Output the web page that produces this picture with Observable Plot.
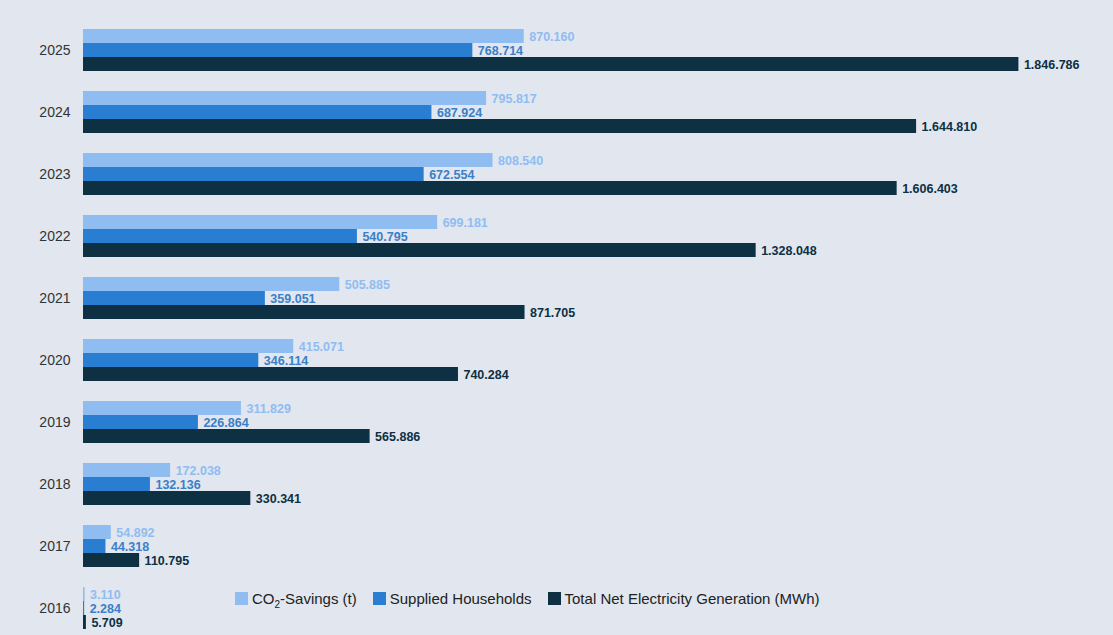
<!DOCTYPE html>
<html><head><meta charset="utf-8">
<script src="https://cdn.jsdelivr.net/npm/d3@7"></script>
<script src="https://cdn.jsdelivr.net/npm/@observablehq/plot@0.6"></script>
<style>
body{margin:0;background:#e1e6ef;font-family:"Liberation Sans",Arial,sans-serif;}
#wrap{position:relative;width:1113px;height:635px;}
#legend{position:absolute;left:235px;top:590px;font-size:15px;color:#222;display:flex;gap:16px;}
#legend span.sw{display:inline-block;width:13px;height:13px;margin-right:4px;vertical-align:-1px;}
</style></head><body>
<div id="wrap"><div id="chart"></div>
<div id="legend">
<div><span class="sw" style="background:#8fbdf2"></span>CO<sub style="font-size:10px">2</sub>-Savings (t)</div>
<div><span class="sw" style="background:#2a7ed2"></span>Supplied Households</div>
<div><span class="sw" style="background:#0d3043"></span>Total Net Electricity Generation (MWh)</div>
</div></div>
<script>
const years = ["2016","2017","2018","2019","2020","2021","2022","2023","2024","2025"];
const co2 = [3110,54892,172038,311829,415071,505885,699181,808540,795817,870160];
const households = [2284,44318,132136,226864,346114,359051,540795,672554,687924,768714];
const generation = [5709,110795,330341,565886,740284,871705,1328048,1606403,1644810,1846786];
const seriesNames = ["CO2","Households","Generation"];
const colors = ["#8fbdf2","#2a7ed2","#0d3043"];
const labelColors = ["#8fbdf2","#3a7fc8","#0d3043"];
const data = [];
years.forEach((y,i)=>{
  data.push({year:y,s:"CO2",v:co2[i]});
  data.push({year:y,s:"Households",v:households[i]});
  data.push({year:y,s:"Generation",v:generation[i]});
});
const fmt = d3.formatLocale({thousands:".",grouping:[3],decimal:","}).format(",d");
const chart = Plot.plot({
  width:1113, height:635,
  marginLeft:83, marginRight:17, marginTop:28, marginBottom:5,
  style:{background:"transparent",fontFamily:"Liberation Sans, Arial, sans-serif"},
  x:{domain:[0,2000000],axis:null},
  fy:{domain:years.slice().reverse(),padding:0.33,label:null,axis:null},
  y:{domain:seriesNames,padding:0,axis:null},
  color:{domain:seriesNames,range:colors},
  marks:[
    Plot.ruleX([0],{stroke:"#c9ced6"}),
    Plot.barX(data,{fy:"year",y:"s",x:"v",fill:"s"}),
    Plot.text(data,{fy:"year",y:"s",x:"v",text:d=>fmt(d.v),dx:5,textAnchor:"start",fontWeight:"bold",fontSize:12.5,
      fill:d=>labelColors[seriesNames.indexOf(d.s)]}),
    Plot.text(data.filter(d=>d.s==="Households"),{fy:"year",frameAnchor:"left",text:"year",dx:-13,textAnchor:"end",fontSize:14,fill:"#333"})
  ]
});
document.getElementById("chart").append(chart);
</script></body></html>
